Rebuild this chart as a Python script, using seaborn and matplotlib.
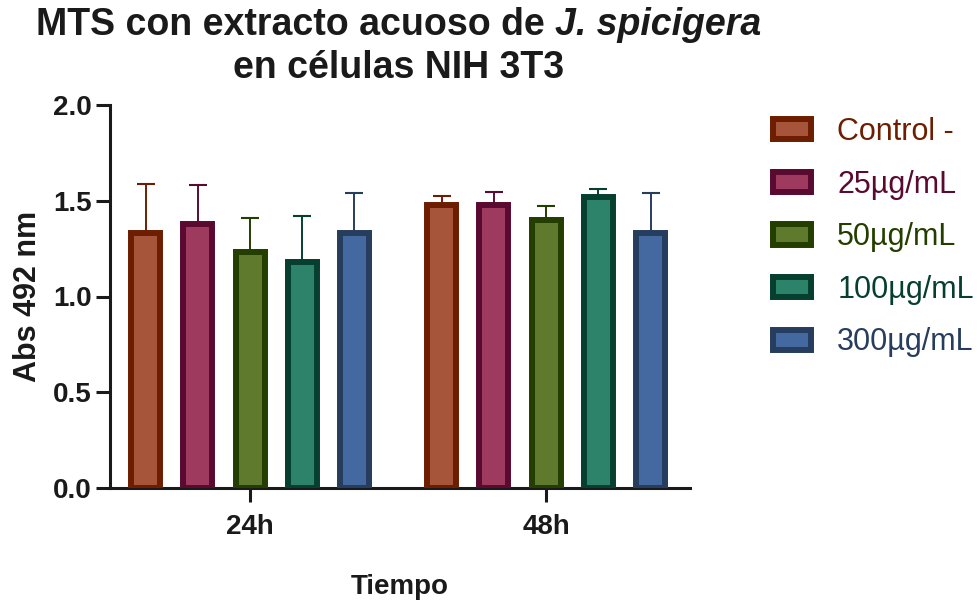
import matplotlib
matplotlib.use("Agg")
import matplotlib.pyplot as plt
import numpy as np
import pandas as pd
import seaborn as sns
from matplotlib.ticker import FormatStrFormatter

# Absorbance at 492 nm (mean and SD) for each treatment and time point
tiempos = ["24h", "48h"]
tratamientos = ["Control -", "25µg/mL", "50µg/mL", "100µg/mL", "300µg/mL"]
media_24h = [1.33, 1.38, 1.23, 1.18, 1.33]
media_48h = [1.48, 1.48, 1.40, 1.52, 1.33]
sd_24h = [0.26, 0.20, 0.18, 0.24, 0.21]
sd_48h = [0.045, 0.065, 0.07, 0.04, 0.21]

relleno = ["#A6553B", "#9E3A5E", "#5F7A2D", "#2D836A", "#4469A0"]
borde = ["#6E1E00", "#5A0A30", "#243E00", "#063F30", "#263D5E"]

df = pd.DataFrame({
    "Tiempo": [t for t in tiempos for _ in tratamientos],
    "Tratamiento": tratamientos * len(tiempos),
    "Abs": media_24h + media_48h,
    "SD": sd_24h + sd_48h,
})

sns.set_theme(style="ticks")
plt.rcParams["font.family"] = ["Liberation Sans", "DejaVu Sans"]

fig = plt.figure(figsize=(9.77, 6.0), dpi=100)
ax = fig.add_axes([110 / 977, 1 - 488 / 600, 580 / 977, 383 / 600])

sns.barplot(data=df, x="Tiempo", y="Abs", hue="Tratamiento",
            hue_order=tratamientos, order=tiempos, palette=relleno,
            width=0.882, gap=0.445, errorbar=None, saturation=1,
            legend=False, ax=ax, zorder=3)

bar_groups = list(ax.containers)

# outline each series and add upward SD bars
for i, cont in enumerate(bar_groups):
    for p in cont.patches:
        p.set_edgecolor(borde[i])
        p.set_linewidth(4.3)
        p.set_zorder(3)
    sub = df[df["Tratamiento"] == tratamientos[i]].set_index("Tiempo").loc[tiempos]
    xs = [p.get_x() + p.get_width() / 2 for p in cont.patches]
    ax.errorbar(xs, sub["Abs"].values,
                yerr=[np.zeros(len(xs)), sub["SD"].values],
                fmt="none", ecolor=borde[i], elinewidth=1.4,
                capsize=6.4, capthick=1.5, zorder=2)

ax.set_ylim(0, 2.0)
ax.set_xlim(-0.473, 1.486)
ax.set_yticks([0, 0.5, 1.0, 1.5, 2.0])
ax.yaxis.set_major_formatter(FormatStrFormatter("%.1f"))
for s in ["top", "right"]:
    ax.spines[s].set_visible(False)
for s in ["left", "bottom"]:
    ax.spines[s].set_linewidth(2.2)
    ax.spines[s].set_color("#1a1a1a")
ax.tick_params(axis="both", length=10, width=2.2, color="#1a1a1a",
               labelsize=20, labelcolor="#1a1a1a")
ax.tick_params(axis="y", pad=3)
ax.tick_params(axis="x", pad=9)
for lab in ax.get_xticklabels() + ax.get_yticklabels():
    lab.set_fontweight("bold")

ax.set_xlabel("Tiempo", fontsize=20, fontweight="bold", color="#1a1a1a",
              labelpad=24)
ax.set_ylabel("Abs 492 nm", fontsize=22, fontweight="bold", color="#1a1a1a",
              labelpad=7)

handles = [cont.patches[0] for cont in bar_groups]
leg = ax.legend(handles, tratamientos, loc="upper left",
                bbox_to_anchor=(773 / 977, 1 - 117 / 600),
                bbox_transform=fig.transFigure, frameon=False,
                fontsize=22, handlelength=1.25, handleheight=0.65,
                handletextpad=0.85, labelspacing=0.74, borderpad=0,
                borderaxespad=0)
for txt, c in zip(leg.get_texts(), borde):
    txt.set_color(c)

# two-line title with the species name in italics
tkw = dict(fontsize=27, fontweight="bold", color="#1a1a1a")
fig.canvas.draw()
r = fig.canvas.get_renderer()
y1 = 1 - 35 / 600
t_a = fig.text(0, y1, "MTS con extracto acuoso de", va="baseline", **tkw)
t_b = fig.text(0, y1, "J. spicigera", va="baseline", style="italic", **tkw)
wa = t_a.get_window_extent(r).width
wb = t_b.get_window_extent(r).width
sp = 0.278 * tkw["fontsize"] * fig.dpi / 72
cx = 399
left = cx - (wa + sp + wb) / 2
t_a.set_x(left / 977)
t_b.set_x((left + wa + sp) / 977)
fig.text(cx / 977, 1 - 78 / 600, "en células NIH 3T3", ha="center",
         va="baseline", **tkw)

fig.savefig("out.png", dpi=100)
